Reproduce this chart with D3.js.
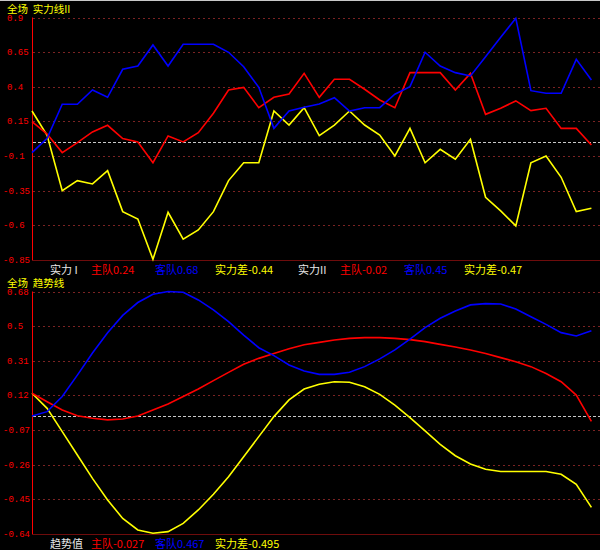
<!DOCTYPE html>
<html><head><meta charset="utf-8">
<script src="https://cdn.jsdelivr.net/npm/d3@7/dist/d3.min.js"></script>
<style>
html,body{margin:0;padding:0;background:#000;}
svg{display:block;}
text{white-space:pre;}
</style></head>
<body><svg id="c" width="600" height="550"></svg>
<script>
// ---------- data ----------
const points = d3.range(38);
const topTitle = "全场  实力线II";
const bottomTitle = "全场  趋势线";
const topTicks = ["0.9","0.65","0.4","0.15","-0.1","-0.35","-0.6","-0.85"];
const bottomTicks = ["0.68","0.5","0.31","0.12","-0.07","-0.26","-0.45","-0.64"];
const topHome = [0.148,0.059,-0.075,-0.003,0.074,0.122,0.026,0.002,-0.148,0.045,0.002,0.069,0.209,0.377,0.396,0.249,0.324,0.348,0.497,0.324,0.454,0.454,0.382,0.305,0.249,0.502,0.502,0.502,0.377,0.497,0.201,0.245,0.298,0.228,0.245,0.1,0.1,-0.02];
const topAway = [-0.075,0.028,0.274,0.274,0.377,0.324,0.526,0.55,0.702,0.55,0.707,0.707,0.707,0.649,0.545,0.396,0.1,0.225,0.252,0.276,0.321,0.225,0.249,0.249,0.346,0.401,0.649,0.55,0.502,0.478,0.617,0.757,0.894,0.372,0.353,0.353,0.598,0.449];
const topDiff = [0.225,0.05,-0.35,-0.277,-0.301,-0.205,-0.501,-0.554,-0.845,-0.506,-0.7,-0.633,-0.501,-0.277,-0.148,-0.148,0.225,0.124,0.249,0.047,0.124,0.225,0.124,0.052,-0.099,0.1,-0.148,-0.051,-0.123,0.021,-0.397,-0.496,-0.604,-0.148,-0.099,-0.253,-0.501,-0.477];
const trendHome = [0.126,0.08,0.035,0.004,-0.01,-0.019,-0.014,0.002,0.035,0.068,0.108,0.149,0.195,0.24,0.284,0.316,0.343,0.368,0.39,0.403,0.416,0.425,0.429,0.429,0.425,0.418,0.407,0.392,0.378,0.362,0.343,0.32,0.298,0.271,0.234,0.189,0.116,-0.027];
const trendAway = [0.002,0.026,0.108,0.225,0.345,0.455,0.55,0.62,0.665,0.68,0.676,0.634,0.58,0.516,0.443,0.374,0.331,0.28,0.247,0.229,0.229,0.24,0.271,0.313,0.362,0.421,0.483,0.534,0.574,0.607,0.614,0.612,0.585,0.543,0.501,0.456,0.438,0.467];
const trendDiff = [0.126,0.044,-0.083,-0.21,-0.337,-0.455,-0.555,-0.618,-0.636,-0.627,-0.582,-0.509,-0.424,-0.328,-0.219,-0.11,-0.001,0.09,0.149,0.175,0.189,0.186,0.162,0.12,0.062,-0.007,-0.079,-0.152,-0.214,-0.259,-0.288,-0.3,-0.3,-0.3,-0.3,-0.315,-0.37,-0.495];
const topLegend = [
  {t:"实力 I", c:"#e8e8e8", x:50},
  {t:"主队0.24", c:"#ff0000", x:91},
  {t:"客队0.68", c:"#0000ff", x:155},
  {t:"实力差-0.44", c:"#ffff00", x:215},
  {t:"实力II", c:"#e8e8e8", x:298},
  {t:"主队-0.02", c:"#ff0000", x:340},
  {t:"客队0.45", c:"#0000ff", x:404},
  {t:"实力差-0.47", c:"#ffff00", x:464}
];
const bottomLegend = [
  {t:"趋势值", c:"#e8e8e8", x:50},
  {t:"主队-0.027", c:"#ff0000", x:91},
  {t:"客队0.467", c:"#0000ff", x:155},
  {t:"实力差-0.495", c:"#ffff00", x:215}
];

// ---------- drawing ----------
const svg = d3.select("#c");
svg.append("rect").attr("width",600).attr("height",550).attr("fill","#000");
svg.append("line").attr("x1",0).attr("x2",600).attr("y1",0.5).attr("y2",0.5).attr("stroke","#c8c8c8").attr("stroke-width",1);

const cjk = "'Noto Sans CJK SC','Noto Sans',sans-serif";
const mono = "'Liberation Mono','DejaVu Sans Mono',monospace";
const x = d3.scaleLinear().domain([0, 37]).range([32, 591.4]);

function panel(cfg){
  const y = d3.scaleLinear().domain([cfg.lo, cfg.hi]).range([cfg.bottom, cfg.top]);
  const g = svg.append("g");
  const n = cfg.ticks.length;
  const tickVal = i => cfg.hi - i*(cfg.hi-cfg.lo)/(n-1);
  // gridlines
  cfg.ticks.forEach((t,i)=>{
    const yy = Math.round(y(tickVal(i)))+0.5;
    if(i < n-1){
      g.append("line").attr("x1",33).attr("x2",600).attr("y1",yy).attr("y2",yy)
        .attr("stroke","#7a2323").attr("stroke-width",1).attr("stroke-dasharray","2,3");
    } else {
      g.append("line").attr("x1",32).attr("x2",600).attr("y1",yy).attr("y2",yy)
        .attr("stroke","#6e0c0c").attr("stroke-width",1);
    }
    g.append("text").attr("x", t.startsWith("-") ? 3 : 7).attr("y", y(tickVal(i))+3)
      .attr("fill","#ff0000").attr("font-family",mono).attr("font-size",9).text(t);
  });
  // zero line
  const y0 = Math.round(y(0))+0.5;
  g.append("line").attr("x1",33).attr("x2",600).attr("y1",y0).attr("y2",y0)
    .attr("stroke","#c8c8c8").attr("stroke-width",1).attr("stroke-dasharray","3,2");
  // left axis
  g.append("line").attr("x1",32.5).attr("x2",32.5).attr("y1",y(cfg.hi)).attr("y2",y(cfg.lo))
    .attr("stroke","#ff0000").attr("stroke-width",1);
  // title
  g.append("text").attr("x",7).attr("y",cfg.titleY).attr("fill","#ffff00")
    .attr("font-family",cjk).attr("font-size",10.5).text(cfg.title);
  // series
  const line = d3.line().x((d,i)=>x(i)).y(d=>y(d));
  cfg.series.forEach(s=>{
    g.append("path").datum(s.data).attr("d",line).attr("fill","none")
      .attr("stroke",s.c).attr("stroke-width",1.6).attr("stroke-linejoin","miter");
  });
  // legend
  cfg.legend.forEach(l=>{
    g.append("text").attr("x",l.x).attr("y",cfg.legendY).attr("fill",l.c)
      .attr("font-family",cjk).attr("font-size",11).text(l.t);
  });
}

panel({lo:-0.85, hi:0.9, top:17.5, bottom:260, ticks:topTicks, title:topTitle, titleY:13,
  series:[{data:topDiff,c:"#ffff00"},{data:topHome,c:"#ff0000"},{data:topAway,c:"#0000ff"}],
  legend:topLegend, legendY:274});
panel({lo:-0.64, hi:0.68, top:291.5, bottom:534, ticks:bottomTicks, title:bottomTitle, titleY:287,
  series:[{data:trendDiff,c:"#ffff00"},{data:trendHome,c:"#ff0000"},{data:trendAway,c:"#0000ff"}],
  legend:bottomLegend, legendY:548});
</script></body></html>
